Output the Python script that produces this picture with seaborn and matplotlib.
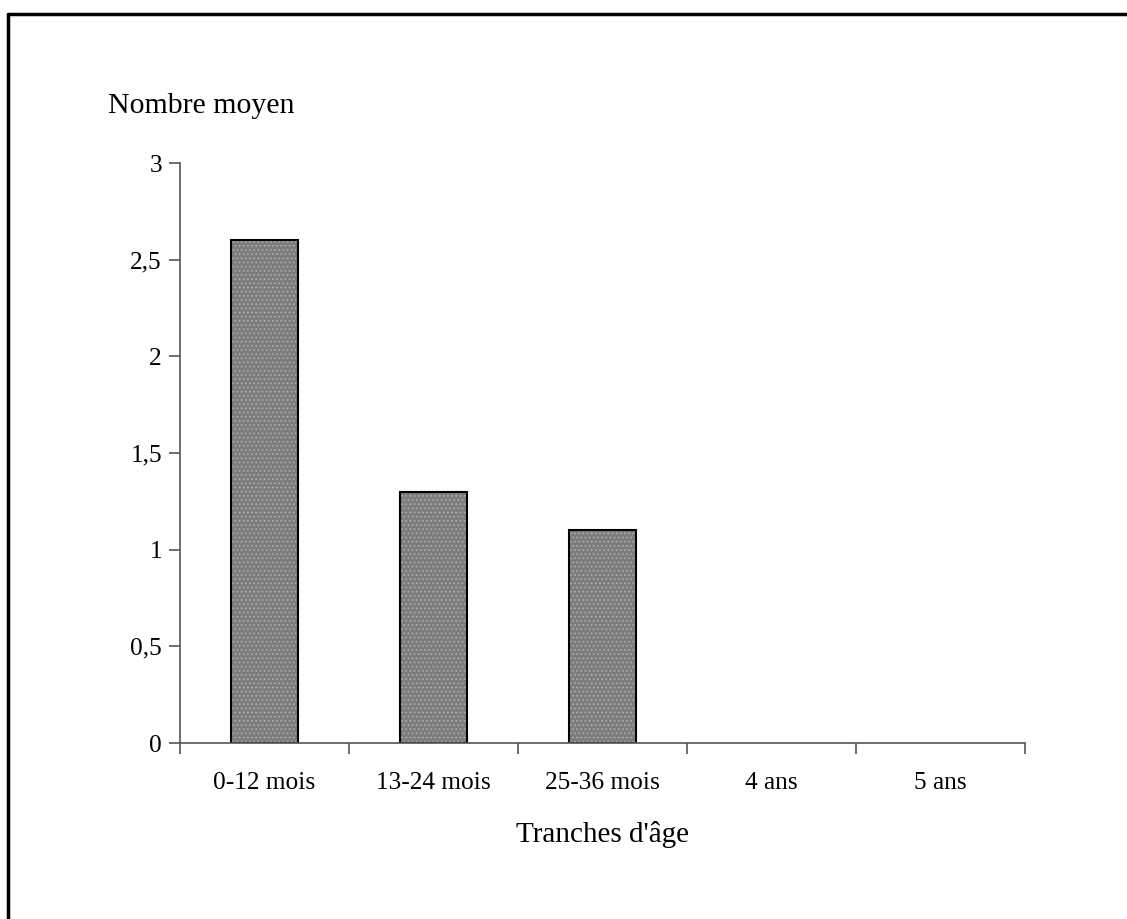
import matplotlib
matplotlib.use("Agg")
import matplotlib.pyplot as plt
import seaborn as sns
import pandas as pd
from matplotlib.lines import Line2D
from matplotlib.ticker import FuncFormatter

categories = ["0-12 mois", "13-24 mois", "25-36 mois", "4 ans", "5 ans"]
values = [2.6, 1.3, 1.1, 0, 0]

df = pd.DataFrame({"tranche": categories, "nombre": values})

sns.set_style("white")
plt.rcParams['font.family'] = ['Liberation Serif', 'DejaVu Serif']
plt.rcParams['text.color'] = 'black'
plt.rcParams['xtick.color'] = 'black'
plt.rcParams['ytick.color'] = 'black'
plt.rcParams['hatch.linewidth'] = 0.6

fig = plt.figure(figsize=(11.27, 9.19), dpi=100)
ax = fig.add_axes([180/1127, 1 - 743/919, (1025 - 180)/1127, (743 - 163)/919])

# dotted grey fill
sns.barplot(data=df, x="tranche", y="nombre", color="#7d7d7d", width=0.4,
            edgecolor="#b4b4b4", linewidth=0, saturation=1, hatch="....", ax=ax)
# black outline on top
sns.barplot(data=df, x="tranche", y="nombre", fill=False, width=0.4,
            edgecolor="black", linewidth=1.5, ax=ax)
for p, v in zip(ax.patches[len(values):], values):
    if v == 0:
        p.set_visible(False)

ax.set_xlim(-0.5, 4.5)
ax.set_ylim(0, 3)
ax.set_yticks([0, 0.5, 1, 1.5, 2, 2.5, 3])
ax.yaxis.set_major_formatter(FuncFormatter(lambda v, p: f"{v:g}".replace(".", ",")))
ax.set_xticks(range(len(categories)))
ax.set_xticklabels(categories)
ax.set_xticks([i - 0.5 for i in range(len(categories) + 1)], minor=True)
ax.tick_params(axis="x", which="major", length=0, pad=21, labelsize=18.3, labelcolor="black")
ax.tick_params(axis="x", which="minor", length=8, width=1.2, color="#555555", direction="out")
ax.tick_params(axis="y", length=8, width=1.2, color="#555555", direction="out", pad=5,
               labelsize=18.3, labelcolor="black")
ax.tick_params(axis="both", bottom=True, left=True, which="both")

for s in ["top", "right"]:
    ax.spines[s].set_visible(False)
for s in ["left", "bottom"]:
    ax.spines[s].set_color("#555555")
    ax.spines[s].set_linewidth(1.2)

ax.set_xlabel("")
ax.set_ylabel("")
fig.text(602/1127, 1 - 835/919, "Tranches d'âge", ha="center", va="center", fontsize=21, color="black")
fig.text(108/1127, 1 - 106/919, "Nombre moyen", ha="left", va="center", fontsize=21.5, color="black")

# outer frame (left and top edges)
fig.add_artist(Line2D([8/1127, 8/1127], [0, 1 - 14/919], color="black", lw=2.5,
                      transform=fig.transFigure))
fig.add_artist(Line2D([8/1127, 1], [1 - 14/919, 1 - 14/919], color="black", lw=2.5,
                      transform=fig.transFigure))

fig.savefig("out.png", dpi=100)
